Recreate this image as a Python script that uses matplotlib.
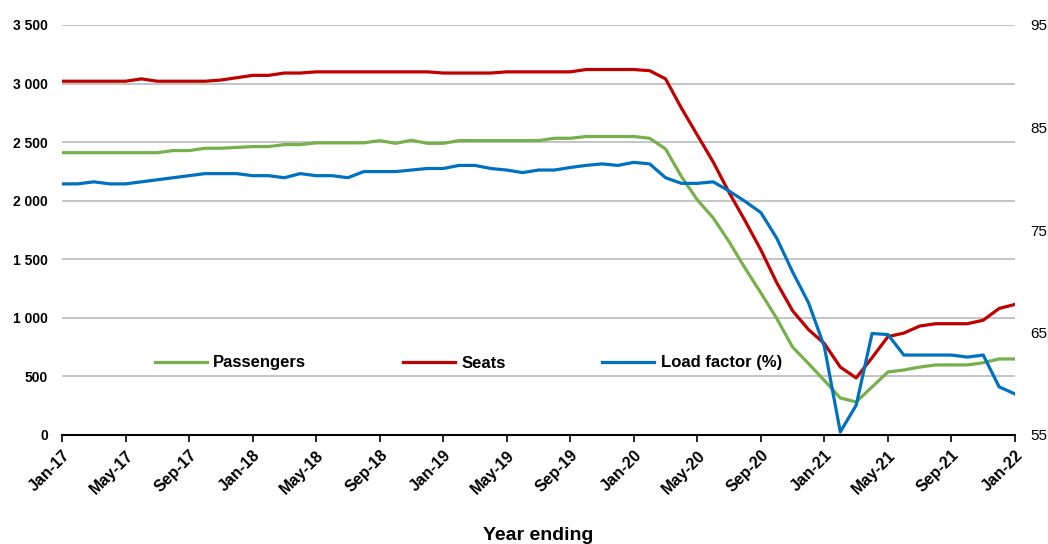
import numpy as np
import pandas as pd
import matplotlib
matplotlib.use("Agg")
import matplotlib.pyplot as plt

plt.rcParams['font.family'] = ['Liberation Sans', 'DejaVu Sans']

months = pd.date_range('2017-01-01', periods=61, freq='MS').strftime('%b-%y').tolist()

seats = [3020, 3020, 3020, 3020, 3020, 3040, 3020, 3020, 3020, 3020,
         3030, 3050, 3070, 3070, 3090, 3090, 3100, 3100, 3100, 3100,
         3100, 3100, 3100, 3100, 3090, 3090, 3090, 3090, 3100, 3100,
         3100, 3100, 3100, 3120, 3120, 3120, 3120, 3110, 3040, 2790,
         2560, 2330, 2070, 1830, 1580, 1300, 1060, 900, 780, 580,
         487, 660, 840, 870, 930, 950, 950, 950, 980, 1080, 1115]

passengers = [2410, 2410, 2410, 2410, 2410, 2410, 2410, 2428, 2428, 2448,
              2448, 2455, 2462, 2462, 2479, 2479, 2494, 2494, 2494, 2494,
              2513, 2490, 2516, 2490, 2490, 2513, 2513, 2513, 2513, 2513,
              2513, 2533, 2533, 2548, 2548, 2548, 2548, 2533, 2442, 2206,
              2007, 1853, 1650, 1425, 1213, 995, 750, 610, 465, 316,
              282, 410, 538, 555, 580, 598, 598, 598, 617, 649, 649]

load_factor = [79.5, 79.5, 79.7, 79.5, 79.5, 79.7, 79.9, 80.1, 80.3, 80.5,
               80.5, 80.5, 80.3, 80.3, 80.1, 80.5, 80.3, 80.3, 80.1, 80.7,
               80.7, 80.7, 80.85, 81.0, 81.0, 81.3, 81.3, 81.0, 80.85, 80.6,
               80.85, 80.85, 81.1, 81.3, 81.45, 81.3, 81.6, 81.45, 80.1, 79.55,
               79.55, 79.7, 78.8, 77.8, 76.7, 74.2, 70.9, 67.9, 63.6, 55.3,
               57.9, 64.9, 64.8, 62.8, 62.8, 62.8, 62.8, 62.6, 62.8, 59.7, 59.0]

left_ticks = [0, 500, 1000, 1500, 2000, 2500, 3000, 3500]
right_ticks = [55, 65, 75, 85, 95]

x = np.arange(len(months))

fig = plt.figure(figsize=(10.48, 5.44), dpi=100)
ax = fig.add_axes([62 / 1048, 1 - 435 / 544, (1015 - 62) / 1048, 410 / 544])
ax2 = ax.twinx()

l1, = ax.plot(x, passengers, color='#77B04A', lw=2.3, label='Passengers')
l2, = ax.plot(x, seats, color='#C00000', lw=2.3, label='Seats')
l3, = ax2.plot(x, load_factor, color='#0070C0', lw=2.3, label='Load factor (%)')

ax.set_xlim(0, 60)
ax.set_ylim(0, 3500)
ax2.set_ylim(55, 95)

ax.set_yticks(left_ticks)
ax.set_yticklabels([f"{v:,}".replace(',', ' ') for v in left_ticks],
                   fontsize=10, fontweight='bold')
ax.tick_params(axis='y', length=0, pad=10)
ax.grid(axis='y', color='#BFBFBF', lw=1.3)
ax.set_axisbelow(True)

ax2.set_yticks(right_ticks)
ax2.set_yticklabels([str(v) for v in right_ticks], fontsize=11)
ax2.tick_params(axis='y', length=0, pad=11)

ax.set_xticks(x[::4])
ax.set_xticklabels(months[::4], rotation=45, ha='right', rotation_mode='anchor',
                   fontsize=11.5, fontweight='bold')
ax.tick_params(axis='x', length=5, width=1.2, direction='out', pad=4)

for a in (ax, ax2):
    for s in ('left', 'right', 'top'):
        a.spines[s].set_visible(False)
ax2.spines['bottom'].set_visible(False)
ax.spines['bottom'].set_linewidth(1.5)
ax.spines['bottom'].set_color('black')

ax.set_xlabel('Year ending', fontsize=14, fontweight='bold', labelpad=22)

fig.legend(handles=[l1, l2, l3], loc='center left',
           bbox_to_anchor=(155 / 1048, 1 - 363 / 544), ncol=3, frameon=False,
           borderpad=0, borderaxespad=0, handlelength=3.1, handletextpad=0.4,
           columnspacing=5.8, prop={'size': 12, 'weight': 'bold'})

fig.savefig('out.png', dpi=100)
